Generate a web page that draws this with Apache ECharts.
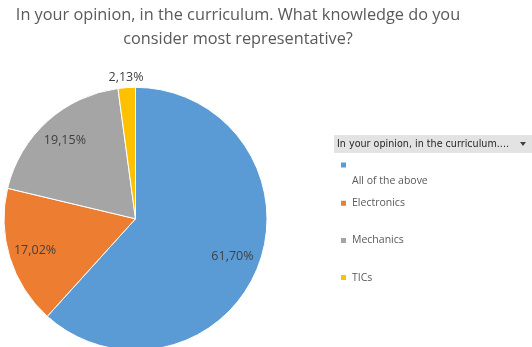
<!DOCTYPE html>
<html>
<head>
<meta charset="utf-8">
<script src="https://cdn.jsdelivr.net/npm/echarts@6/dist/echarts.min.js"></script>
<style>
  html, body { margin: 0; padding: 0; background: #ffffff; }
  #chart { width: 532px; height: 347px; }
</style>
</head>
<body>
<div id="chart"></div>
<script>
// Survey answers and their shares (%)
const categories = ['All of the above', 'Electronics', 'Mechanics', 'TICs'];
const shares = [61.70, 17.02, 19.15, 2.13];
const colors = ['#5B9BD5', '#ED7D31', '#A5A5A5', '#FFC000'];
const titleLines = ['In your opinion, in the curriculum. What knowledge do you', 'consider most representative?'];
const filterLabel = 'In your opinion, in the curriculum....';

// Pie geometry
const CX = 135.5, CY = 218.8, R = 131.5;
// How far out (fraction of radius) each data label sits
const labelFactor = [0.79, 0.8, 0.8, 1.08];

const FONT = '"Open Sans", "Noto Sans", sans-serif';

const total = shares.reduce((a, b) => a + b, 0);
const midAngles = [];
let acc = 0;
shares.forEach(v => { midAngles.push((acc + v / 2) / total * 2 * Math.PI); acc += v; });

const fmtPct = v => v.toFixed(2).replace('.', ',') + '%';

const chart = echarts.init(document.getElementById('chart'), null, { renderer: 'canvas' });

const legendText = { fontSize: 10.5, fontFamily: FONT, color: '#595959' };

chart.setOption({
  backgroundColor: '#ffffff',
  animation: false,
  color: colors,
  title: {
    text: titleLines.join('\n'),
    left: 238,
    top: 3,
    padding: 0,
    textAlign: 'center',
    textStyle: {
      fontFamily: FONT,
      fontSize: 16.3,
      fontWeight: 'normal',
      color: '#595959',
      lineHeight: 24
    }
  },
  legend: {
    orient: 'vertical',
    left: 339,
    top: 152.5,
    padding: 0,
    itemWidth: 7,
    itemHeight: 7,
    itemGap: -3.8,
    icon: 'rect',
    selectedMode: false,
    data: categories,
    // first entry shows its name on the line below the swatch
    formatter: name => name === categories[0]
      ? '{gapL| }\n{t|' + name + '}'
      : '{gapS| }\n{t|' + name + '}\n{gapS| }',
    textStyle: Object.assign({}, legendText, {
      rich: {
        gapL: Object.assign({ lineHeight: 32 }, legendText),
        gapS: Object.assign({ lineHeight: 16 }, legendText),
        t: Object.assign({ lineHeight: 14 }, legendText)
      }
    })
  },
  graphic: [
    {
      type: 'rect',
      shape: { x: 334, y: 135, width: 198, height: 18 },
      style: { fill: '#E3E3E3' },
      silent: true
    },
    {
      type: 'text',
      x: 337, y: 144,
      style: {
        text: filterLabel,
        fontFamily: '"DejaVu Sans", sans-serif',
        fontSize: 9.6,
        fill: '#262626',
        verticalAlign: 'middle'
      },
      silent: true
    },
    {
      type: 'polygon',
      shape: { points: [[520, 142], [526, 142], [523, 146]] },
      style: { fill: '#404040' },
      silent: true
    }
  ],
  series: [
    {
      type: 'pie',
      center: [CX, CY],
      radius: R,
      startAngle: 90,
      clockwise: true,
      avoidLabelOverlap: false,
      silent: true,
      itemStyle: { borderColor: '#ffffff', borderWidth: 1 },
      label: {
        show: true,
        position: 'inside',
        formatter: p => fmtPct(p.value),
        fontFamily: FONT,
        fontSize: 12.5,
        color: '#404040'
      },
      labelLine: { show: false },
      labelLayout: params => {
        const i = params.dataIndex;
        const a = midAngles[i];
        return {
          x: CX + labelFactor[i] * R * Math.sin(a),
          y: CY - labelFactor[i] * R * Math.cos(a),
          align: 'center',
          verticalAlign: 'middle'
        };
      },
      data: categories.map((c, i) => ({ name: c, value: shares[i] }))
    }
  ]
});
</script>
</body>
</html>
